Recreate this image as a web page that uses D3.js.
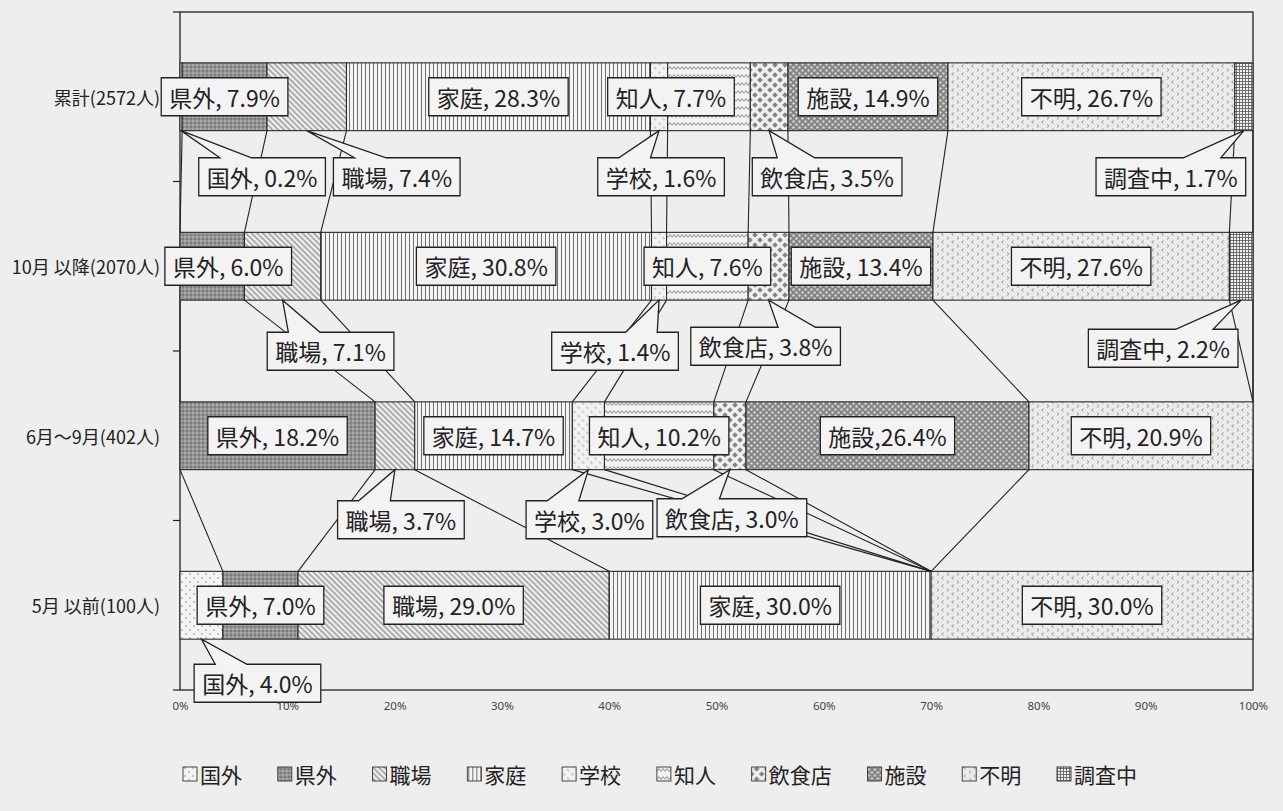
<!DOCTYPE html>
<html>
<head>
<meta charset="utf-8">
<script src="https://cdn.jsdelivr.net/npm/d3@7"></script>
<style>
  body { margin: 0; background: #eeeeee; }
  text { font-family: "Noto Sans CJK JP", "Noto Sans", sans-serif; fill: #222; }
</style>
</head>
<body>
<svg id="chart"></svg>
<script>
// 帯グラフ（100%積み上げ）感染経路の割合

// データ
const categories = ['累計(2572人)', '10月 以降(2070人)', '6月～9月(402人)', '5月 以前(100人)']
const series = ['国外', '県外', '職場', '家庭', '学校', '知人', '飲食店', '施設', '不明', '調査中']
const ruikei    = [0.2, 7.9, 7.4, 28.3, 1.6, 7.7, 3.5, 14.9, 26.7, 1.7]
const octAfter  = [0.0, 6.0, 7.1, 30.8, 1.4, 7.6, 3.8, 13.4, 27.6, 2.2]
const junSep    = [0.0, 18.2, 3.7, 14.7, 3.0, 10.2, 3.0, 26.4, 20.9, 0.0]
const mayBefore = [4.0, 7.0, 29.0, 30.0, 0.0, 0.0, 0.0, 0.0, 30.0, 0.0]
const xTicks = [0, 10, 20, 30, 40, 50, 60, 70, 80, 90, 100]

const values = [ruikei, octAfter, junSep, mayBefore]

// ラベル位置の調整（セグメント中心からのずれ, px）
const labelShift = {
  '累計(2572人)|国外': [81, 80],
  '累計(2572人)|職場': [90, 80],
  '累計(2572人)|学校': [2, 80],
  '累計(2572人)|知人': [-38, 0],
  '累計(2572人)|飲食店': [58, 80],
  '累計(2572人)|調査中': [-73, 80],
  '10月 以降(2070人)|県外': [16, 0],
  '10月 以降(2070人)|職場': [48, 85],
  '10月 以降(2070人)|学校': [-44, 85],
  '10月 以降(2070人)|飲食店': [-3, 80],
  '10月 以降(2070人)|調査中': [-78, 82],
  '6月～9月(402人)|職場': [6, 84],
  '6月～9月(402人)|学校': [1, 84],
  '6月～9月(402人)|飲食店': [2, 82],
  '5月 以前(100人)|国外': [56, 78]
}
const noSpace = ['6月～9月(402人)|施設']

// 寸法
const W = 1283, H = 811
const margin = { top: 12, right: 30, bottom: 121, left: 180 }

const svg = d3.select('#chart').attr('width', W).attr('height', H)
svg.append('rect').attr('width', W).attr('height', H).attr('fill', '#eeeeee')

const x = d3.scaleLinear().domain([0, 100]).range([margin.left, W - margin.right])
const y = d3.scaleBand().domain(categories)
  .range([margin.top, H - margin.bottom])
  .paddingInner(0.6).paddingOuter(0.3)
const bw = y.bandwidth()

// パターン
const defs = svg.append('defs')
function pattern(i, w, h, bg, rot) {
  const p = defs.append('pattern').attr('id', 'pat' + i)
    .attr('patternUnits', 'userSpaceOnUse')
    .attr('width', w).attr('height', h)
  if (rot) p.attr('patternTransform', `rotate(${rot})`)
  p.append('rect').attr('width', w).attr('height', h).attr('fill', bg)
  return p
}
// 国外
let p = pattern(0, 8, 8, '#f4f4f4')
p.append('circle').attr('cx', 2).attr('cy', 2).attr('r', 0.8).attr('fill', '#888')
p.append('circle').attr('cx', 6).attr('cy', 6).attr('r', 0.8).attr('fill', '#888')
// 県外
p = pattern(1, 4, 4, '#939393')
p.append('rect').attr('width', 2).attr('height', 2).attr('fill', '#aaa')
p.append('rect').attr('x', 2).attr('y', 2).attr('width', 2).attr('height', 2).attr('fill', '#7c7c7c')
// 職場
p = pattern(2, 4, 4, '#f0f0f0', -45)
p.append('line').attr('x1', 1).attr('x2', 1).attr('y1', 0).attr('y2', 4).attr('stroke', '#6a6a6a').attr('stroke-width', 1)
// 家庭
p = pattern(3, 4, 4, '#f4f4f4')
p.append('line').attr('x1', 1.5).attr('x2', 1.5).attr('y1', 0).attr('y2', 4).attr('stroke', '#707070').attr('stroke-width', 1)
// 学校
p = pattern(4, 6, 6, '#f2f2f2', -45)
p.append('line').attr('x1', 1).attr('x2', 1).attr('y1', 0).attr('y2', 3).attr('stroke', '#aaa').attr('stroke-width', 1)
// 知人
p = pattern(5, 8, 8, '#f2f2f2')
p.append('path').attr('d', 'M0,5.5L2,2.5L4,5.5L6,2.5L8,5.5').attr('fill', 'none').attr('stroke', '#858585').attr('stroke-width', 0.9)
// 飲食店
p = pattern(6, 10, 10, '#f0f0f0')
;[[5, 5], [0, 0], [10, 0], [0, 10], [10, 10]].forEach(c => {
  p.append('path').attr('d', `M${c[0]},${c[1] - 2.8}l2.8,2.8l-2.8,2.8l-2.8,-2.8Z`).attr('fill', '#858585')
})
// 施設
p = pattern(7, 6, 6, '#858585')
p.append('circle').attr('cx', 1.5).attr('cy', 1.5).attr('r', 1.2).attr('fill', '#d8d8d8')
p.append('circle').attr('cx', 4.5).attr('cy', 4.5).attr('r', 1.2).attr('fill', '#d8d8d8')
// 不明
p = pattern(8, 10, 8, '#ebebeb')
p.append('path').attr('d', 'M3.5,0.5l-1.8,1.6l1.8,1.6M7,4.5l1.8,1.6l-1.8,1.6').attr('fill', 'none').attr('stroke', '#8a8a8a').attr('stroke-width', 0.9)
// 調査中
p = pattern(9, 3, 3, '#f0f0f0')
p.append('path').attr('d', 'M0,0.5H3M0.5,0V3').attr('stroke', '#555').attr('stroke-width', 0.8)

// 積み上げ計算（行ごとに100%へ正規化）
const rows = categories.map((c, i) => {
  const total = d3.sum(values[i])
  let acc = 0
  return values[i].map((v, j) => {
    const s = v / total * 100
    const d = { cat: c, key: series[j], idx: j, v: v, x0: acc, x1: acc + s }
    acc += s
    return d
  })
})

// 横軸
const xAxis = svg.append('g')
  .attr('transform', `translate(0, ${H - margin.bottom})`)
  .call(d3.axisBottom(x).tickValues(xTicks).tickSize(0).tickPadding(12).tickFormat(d => d + '%'))
xAxis.select('.domain').remove()
xAxis.selectAll('text').style('font-size', '11.5px').style('font-family', '"Noto Sans", sans-serif').style('fill', '#444')

// 枠
svg.append('rect')
  .attr('x', x(0)).attr('y', margin.top)
  .attr('width', x(100) - x(0)).attr('height', H - margin.bottom - margin.top)
  .attr('fill', 'none').attr('stroke', '#222').attr('stroke-width', 1.3)

// 縦軸の目盛り
d3.range(categories.length + 1).forEach(k => {
  const yy = margin.top + k * y.step()
  svg.append('line').attr('x1', x(0) - 7).attr('x2', x(0)).attr('y1', yy).attr('y2', yy)
    .attr('stroke', '#222').attr('stroke-width', 1.2)
})

// 棒
rows.forEach(r => {
  svg.append('g').selectAll('rect')
    .data(r.filter(d => d.v > 0))
    .join('rect')
    .attr('x', d => x(d.x0))
    .attr('y', d => y(d.cat))
    .attr('width', d => x(d.x1) - x(d.x0))
    .attr('height', bw)
    .attr('fill', d => `url(#pat${d.idx})`)
    .attr('stroke', '#2a2a2a')
    .attr('stroke-width', 1.1)
})

// 区分線
for (let i = 0; i < rows.length - 1; i++) {
  rows[i].forEach((d, j) => {
    const lo = rows[i + 1][j]
    svg.append('line')
      .attr('x1', x(d.x1)).attr('y1', y(d.cat) + bw)
      .attr('x2', x(lo.x1)).attr('y2', y(lo.cat))
      .attr('stroke', '#222').attr('stroke-width', 1.1)
  })
}

// 吹き出しの形
function calloutPath(bx, by, w, h, ax, ay) {
  const dx = ax - (bx + w / 2), dy = ay - (by + h / 2)
  const dz = Math.abs(dy) - Math.abs(dx * h / w)
  const x1 = bx + w * (dx > 0 ? 7 : 2) / 12, x2 = bx + w * (dx > 0 ? 10 : 5) / 12
  const y1 = by + h * (dy > 0 ? 7 : 2) / 12, y2 = by + h * (dy > 0 ? 10 : 5) / 12
  let s = `M${bx},${by}`
  if (dz > 0 && dy < 0) s += `L${x1},${by}L${ax},${ay}L${x2},${by}`
  s += `L${bx + w},${by}`
  if (dz <= 0 && dx > 0) s += `L${bx + w},${y1}L${ax},${ay}L${bx + w},${y2}`
  s += `L${bx + w},${by + h}`
  if (dz > 0 && dy > 0) s += `L${x2},${by + h}L${ax},${ay}L${x1},${by + h}`
  s += `L${bx},${by + h}`
  if (dz <= 0 && dx < 0) s += `L${bx},${y2}L${ax},${ay}L${bx},${y1}`
  return s + 'Z'
}

// データラベル
const labels = svg.append('g')
rows.forEach(r => {
  r.filter(d => d.v > 0).forEach(d => {
    const k = d.cat + '|' + d.key
    const off = labelShift[k] || [0, 0]
    const mid = x((d.x0 + d.x1) / 2)
    const cx = mid + off[0]
    const cy = y(d.cat) + bw / 2 + off[1]
    const g = labels.append('g')
    const box = g.append('path')
    const t = g.append('text')
      .attr('x', cx).attr('y', cy)
      .attr('text-anchor', 'middle').attr('dominant-baseline', 'central')
      .style('font-size', '23px')
      .text(d.key + (noSpace.includes(k) ? ',' : ', ') + d.v.toFixed(1) + '%')
    const w = t.node().getComputedTextLength() + 16
    const h = 38
    const bx = cx - w / 2, by = cy - h / 2
    const dpath = off[1] !== 0
      ? calloutPath(bx, by, w, h, mid, y(d.cat) + bw)
      : `M${bx},${by}h${w}v${h}h${-w}Z`
    box.attr('d', dpath).attr('fill', '#f3f3f3').attr('stroke', '#222').attr('stroke-width', 1.3)
  })
})

// 分類ラベル
svg.append('g').selectAll('text')
  .data(categories)
  .join('text')
  .attr('x', x(0) - 20)
  .attr('y', d => y(d) + bw / 2)
  .attr('text-anchor', 'end').attr('dominant-baseline', 'central')
  .style('font-size', '18px')
  .text(d => d)

// 凡例（183〜1137 の範囲に並べる）
const legend = svg.append('g').attr('transform', 'translate(183, 774)')
const legendItems = series.map((s, i) => {
  const g = legend.append('g')
  g.append('rect').attr('x', 0).attr('y', -7).attr('width', 14).attr('height', 14)
    .attr('fill', `url(#pat${i})`).attr('stroke', '#333').attr('stroke-width', 0.9)
  const t = g.append('text').attr('x', 17).attr('y', 0).attr('dominant-baseline', 'central')
    .style('font-size', '21px').text(s)
  return { g: g, w: 17 + t.node().getComputedTextLength() }
})
const sumW = d3.sum(legendItems, d => d.w)
const gap = (1137 - 183 - sumW) / (legendItems.length - 1)
let lx = 0
legendItems.forEach(d => {
  d.g.attr('transform', `translate(${lx}, 0)`)
  lx += d.w + gap
})
</script>
</body>
</html>
